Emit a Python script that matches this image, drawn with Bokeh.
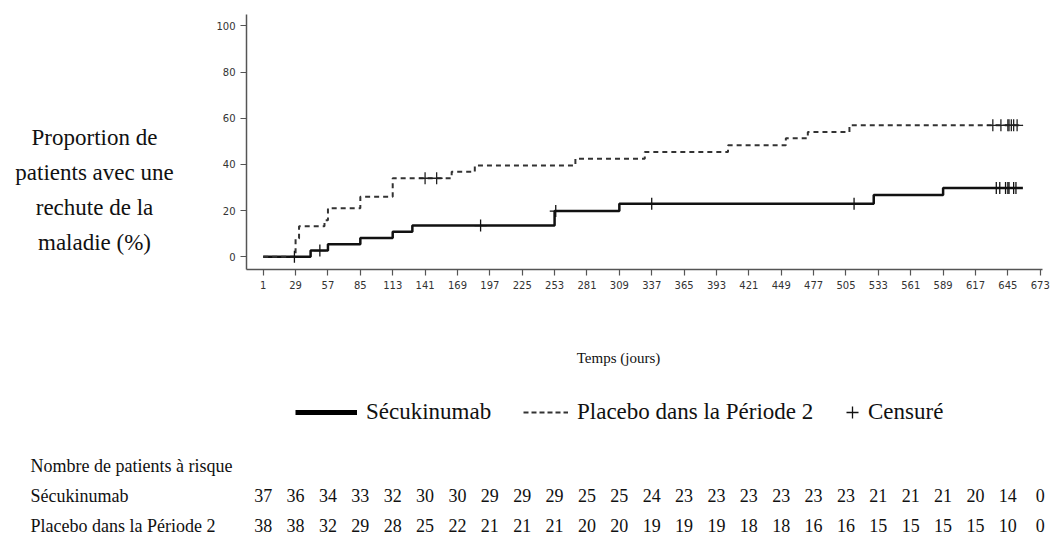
import numpy as np
from bokeh.plotting import figure
from bokeh.layouts import column, row
from bokeh.models import (Range1d, FixedTicker, Label, LabelSet, ColumnDataSource,
                          Legend, LegendItem)
from bokeh.embed import file_html
from bokeh.resources import INLINE

# ---------------- data ----------------
time_ticks = [1, 29, 57, 85, 113, 141, 169, 197, 225, 253, 281, 309, 337, 365,
              393, 421, 449, 477, 505, 533, 561, 589, 617, 645, 673]
y_ticks = [0, 20, 40, 60, 80, 100]

secu_days = [1, 42, 57, 85, 113, 130, 253, 309, 529, 589, 658]
secu_pct = [0.0, 2.7, 5.4, 8.1, 10.8, 13.5, 19.8, 23.0, 26.7, 29.8, 29.8]
secu_cens_days = [28, 50, 189, 254, 337, 512, 635, 638, 643, 645, 646, 650, 652]

plac_days = [1, 29, 32, 54, 57, 85, 113, 164, 184, 271, 331, 403, 453, 472, 508, 658]
plac_pct = [0.0, 7.9, 13.2, 15.8, 21.0, 26.0, 34.0, 36.8, 39.5, 42.5, 45.4, 48.3,
            51.3, 54.0, 56.9, 56.9]
plac_cens_days = [141, 151, 632, 639, 645, 646, 648, 650, 653]

at_risk_secu = [37, 36, 34, 33, 32, 30, 30, 29, 29, 29, 25, 25, 24, 23, 23, 23, 23,
                23, 23, 21, 21, 21, 20, 14, 0]
at_risk_plac = [38, 38, 32, 29, 28, 25, 22, 21, 21, 21, 20, 20, 19, 19, 19, 18, 18,
                16, 16, 15, 15, 15, 15, 10, 0]

series_names = ["Sécukinumab", "Placebo dans la Période 2"]
censor_name = "Censuré"
y_label_text = "Proportion de\npatients avec une\nrechute de la\nmaladie (%)"
x_label_text = "Temps (jours)"
table_title = "Nombre de patients à risque"

# ------------- page geometry (page pixels) -------------
SX_DAY1, PX_PER_DAY = 262.7, 1.1563
SY_ZERO, PX_PER_PCT = 256.3, 2.31
PAGE_W = 1050
TOP_H, BOT_H = 300, 240
LEFT_W = 200
FRAME_L, FRAME_R, FRAME_T, FRAME_B = 246, 1042, 14, 269
serif = "Liberation Serif"
INK = "#111111"


def day(sx):
    return 1 + (sx - SX_DAY1) / PX_PER_DAY


def pct(sy):
    return (SY_ZERO - sy) / PX_PER_PCT


def level_at(days, vals, t):
    i = np.searchsorted(np.asarray(days), np.asarray(t), side="right") - 1
    return list(np.asarray(vals)[i])


def blank(width, height, x_range, y_range):
    f = figure(width=width, height=height, x_range=x_range, y_range=y_range,
               x_axis_type=None, y_axis_type=None, output_backend="svg",
               toolbar_location=None, min_border=0)
    f.outline_line_color = None
    f.xgrid.grid_line_color = None
    f.ygrid.grid_line_color = None
    return f


# ---------- left panel: y label ----------
pa = blank(LEFT_W, TOP_H, Range1d(0, LEFT_W), Range1d(TOP_H, 0))
pa.add_layout(Label(x=94, y=206, text=y_label_text, text_align="center",
                    text_baseline="middle", text_font=serif, text_font_size="23px",
                    text_line_height=1.4, text_color=INK))

# ---------- main KM plot ----------
p = figure(width=PAGE_W - LEFT_W, height=TOP_H,
           x_range=Range1d(day(FRAME_L), day(FRAME_R)),
           y_range=Range1d(pct(FRAME_B), pct(FRAME_T)),
           output_backend="svg", toolbar_location=None,
           min_border_left=FRAME_L - LEFT_W, min_border_right=PAGE_W - FRAME_R,
           min_border_top=FRAME_T, min_border_bottom=TOP_H - FRAME_B)
p.outline_line_color = None
p.xgrid.grid_line_color = None
p.ygrid.grid_line_color = None

for ax in (p.xaxis, p.yaxis):
    ax.axis_line_color = "#555555"
    ax.axis_line_width = 1.5
    ax.major_tick_line_color = "#555555"
    ax.major_tick_line_width = 1.2
    ax.major_tick_out = 6
    ax.major_tick_in = 0
    ax.minor_tick_line_color = None
    ax.major_label_text_font = "DejaVu Sans"
    ax.major_label_text_font_size = "10px"
    ax.major_label_text_color = "#333333"
    ax.major_label_standoff = 5
p.xaxis.ticker = FixedTicker(ticks=time_ticks)
p.yaxis.ticker = FixedTicker(ticks=y_ticks)

p.step(secu_days, secu_pct, mode="after", line_width=2.5, line_color=INK)
p.step(plac_days, plac_pct, mode="after", line_width=2, line_color="#333333",
       line_dash="5 4")
p.scatter(secu_cens_days, level_at(secu_days, secu_pct, secu_cens_days),
          marker="cross", size=12, line_color=INK, line_width=1.3)
p.scatter(plac_cens_days, level_at(plac_days, plac_pct, plac_cens_days),
          marker="cross", size=12, line_color="#222222", line_width=1.3)

# ---------- bottom panel: x label, legend, at-risk table ----------
pc = blank(PAGE_W, BOT_H, Range1d(day(0), day(PAGE_W)),
           Range1d(TOP_H + BOT_H, TOP_H))
pc.add_layout(Label(x=day(618), y=357, text=x_label_text, text_align="center",
                    text_baseline="middle", text_font=serif, text_font_size="15px",
                    text_color=INK))

# legend-only renderers (no visible marks: NaN coordinates)
nan1 = [float("nan")]
lg_secu = pc.line(x=nan1, y=nan1, line_width=5, line_color="black")
lg_plac = pc.line(x=nan1, y=nan1, line_width=2, line_color="#333333", line_dash="5 3")
lg_cens = pc.scatter(x=nan1, y=nan1, marker="cross", size=14, line_color=INK,
                     line_width=1.3)
LEG_CY = 412
for label, rend, gw, gh, sx, so in ((series_names[0], lg_secu, 62, 20, 295, 9),
                                    (series_names[1], lg_plac, 45, 20, 523, 9),
                                    (censor_name, lg_cens, 30, 30, 837, 1)):
    half = max(gh, 26) / 2
    lg = Legend(items=[LegendItem(label=label, renderers=[rend])],
                location=(sx, TOP_H + BOT_H - LEG_CY - half),
                orientation="horizontal", padding=0, margin=0, spacing=0,
                glyph_width=gw, glyph_height=gh, label_standoff=so,
                label_text_font=serif, label_text_font_size="23px",
                label_text_color=INK, border_line_color=None,
                background_fill_alpha=0)
    pc.add_layout(lg, "center")

pc.add_layout(Label(x=day(30), y=465, text=table_title, text_align="left",
                    text_baseline="middle", text_font=serif, text_font_size="18px",
                    text_color=INK))
for name, counts, sy in ((series_names[0], at_risk_secu, 495),
                         (series_names[1], at_risk_plac, 525)):
    pc.add_layout(Label(x=day(30), y=sy, text=name, text_align="left",
                        text_baseline="middle", text_font=serif,
                        text_font_size="18px", text_color=INK))
    src = ColumnDataSource(dict(x=time_ticks, y=[sy] * len(time_ticks),
                                t=[str(c) for c in counts]))
    pc.add_layout(LabelSet(x="x", y="y", text="t", source=src, text_align="center",
                           text_baseline="middle", text_font=serif,
                           text_font_size="18px", text_color=INK))

layout = column(row(pa, p, spacing=0), pc, spacing=0)
open("out.html", "w").write(file_html(layout, INLINE))
